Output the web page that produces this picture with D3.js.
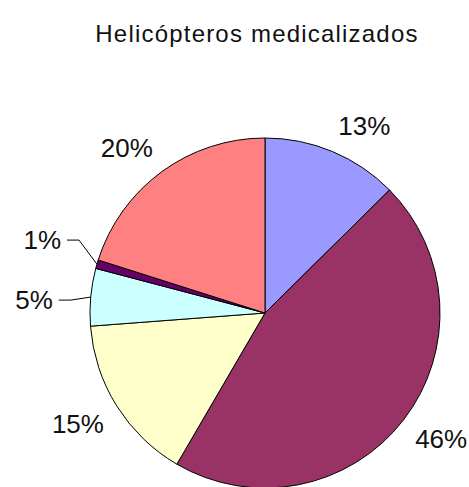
<!DOCTYPE html>
<meta charset="utf-8">
<style>
body { margin: 0; background: #fff; }
text { font-family: "Liberation Sans", Arial, sans-serif; fill: #111; }
</style>
<body>
<svg width="469" height="487"></svg>
<script src="https://cdn.jsdelivr.net/npm/d3@7"></script>
<script>
// data
var title = "Helicópteros medicalizados";
var categories = ["A", "B", "C", "D", "E", "F"];
var values = [12.6, 45.8, 15.4, 5.3, 0.8, 20.1];
var labels = ["13%", "46%", "15%", "5%", "1%", "20%"];
var colors = ["#9999FF", "#993366", "#FFFFCC", "#CCFFFF", "#660066", "#FF8080"];

var svg = d3.select("svg"),
    cx = 265, cy = 313,
    radius = 175,
    fs = 26;

svg.append("text")
    .attr("x", 257)
    .attr("y", 42)
    .attr("text-anchor", "middle")
    .attr("font-size", 24)
    .attr("letter-spacing", 1.2)
    .text(title);

var g = svg.append("g").attr("transform", "translate(" + cx + "," + cy + ")");

var pie = d3.pie().sort(null).value(function(d) { return d; });
var arcs = pie(values);

var arc = d3.arc().innerRadius(0).outerRadius(radius);

g.selectAll("path.slice")
  .data(arcs)
  .enter().append("path")
    .attr("class", "slice")
    .attr("d", arc)
    .attr("fill", function(d, i) { return colors[i]; })
    .attr("stroke", "#000")
    .attr("stroke-width", 1);

function polar(a, r) { return [Math.sin(a) * r, -Math.cos(a) * r]; }
function mid(d) { return (d.startAngle + d.endAngle) / 2; }

var small = function(i) { return values[i] < 8; };

// big slices: label box corner sits at a fixed distance, on the outer side
arcs.forEach(function(d, i) {
  if (small(i)) return;
  var a = mid(d), p = polar(a, 190);
  g.append("text")
    .attr("x", p[0]).attr("y", p[1])
    .attr("dy", Math.cos(a) > 0 ? "-0.12em" : "0.72em")
    .attr("text-anchor", Math.sin(a) > 0 ? "start" : "end")
    .attr("font-size", fs)
    .text(labels[i]);
});

// small slices: outside labels spread apart, with leader lines
var outside = arcs.filter(function(d, i) { return small(i); }).map(function(d) {
  var a = mid(d), p = polar(a, 232);
  return {d: d, a: a, x: p[0], y: p[1]};
});
outside.sort(function(u, v) { return u.y - v.y; });
var gap = 60,
    meanY = d3.mean(outside, function(o) { return o.y; }),
    firstY = meanY - gap * (outside.length - 1) / 2;
outside.forEach(function(o, k) { o.y = firstY + k * gap; });

outside.forEach(function(o) {
  var t = g.append("text")
    .attr("x", o.x).attr("y", o.y)
    .attr("dy", "0.36em")
    .attr("text-anchor", "middle")
    .attr("font-size", fs)
    .text(labels[o.d.index]);
  var bb = t.node().getBBox();
  var edge = polar(o.a, radius);
  var right = bb.x + bb.width + 6;
  var elbowX = Math.min(edge[0], right + 12);
  g.append("path")
    .attr("d", d3.line()([[edge[0], edge[1]], [elbowX, o.y], [right, o.y]]))
    .attr("fill", "none")
    .attr("stroke", "#000")
    .attr("stroke-width", 1);
});
</script>
</body>
